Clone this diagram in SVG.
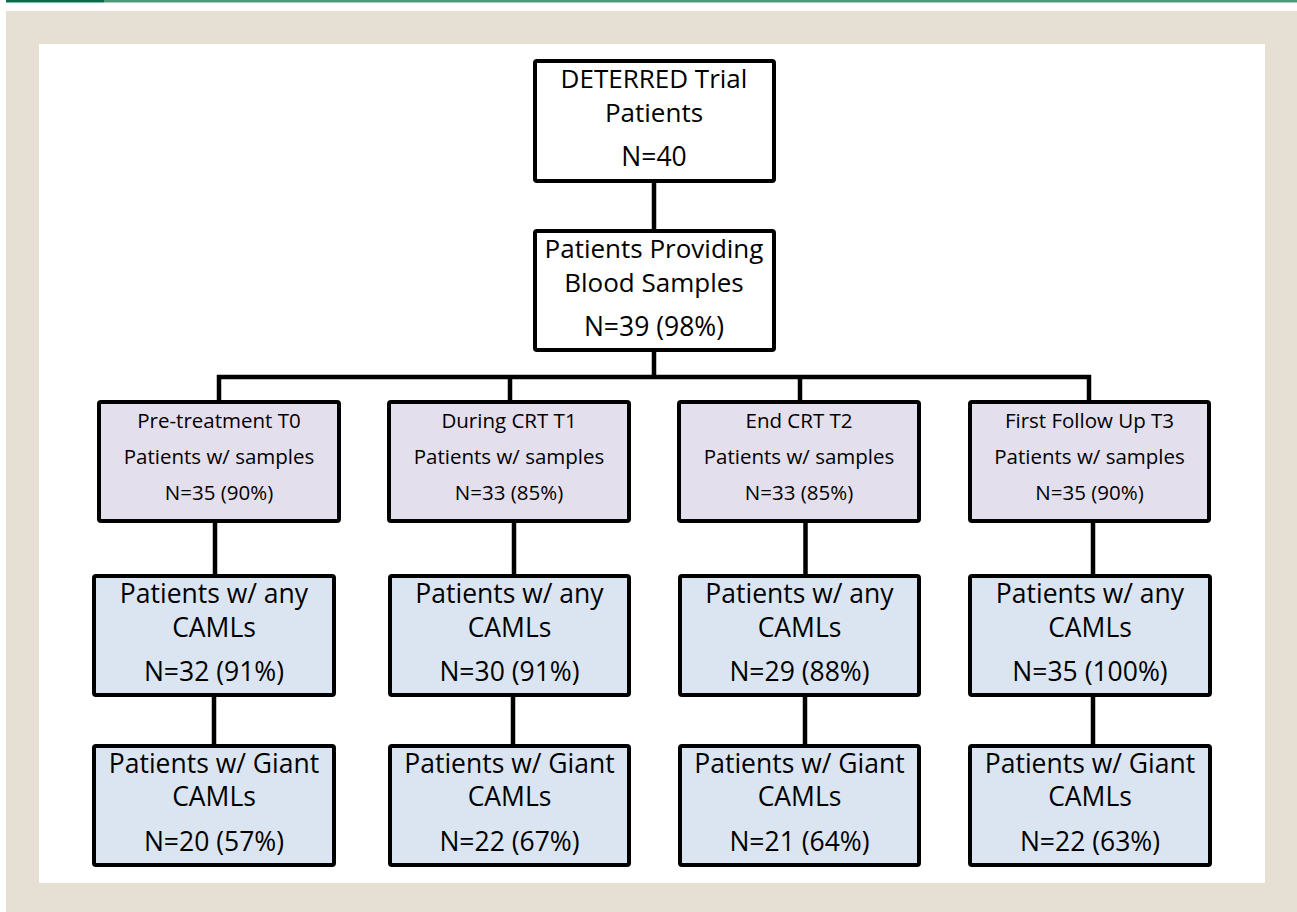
<svg xmlns="http://www.w3.org/2000/svg" width="1297" height="912" viewBox="0 0 1297 912">
<style>
.box{stroke:#000;stroke-width:4;stroke-linejoin:round}
.w{fill:#fff}
.p{fill:#e4dfec}
.b{fill:#dbe5f1}
.t{font-family:"Open Sans","Noto Sans",sans-serif;fill:#000;text-anchor:middle}
.L{font-size:26.5px}
.M{font-size:26px}
.S{font-size:20.5px}
.c{stroke:#000;stroke-width:4.5;fill:none;stroke-linecap:square}
</style>
<rect x="0" y="0" width="1297" height="912" fill="#fff"/>
<rect x="6" y="0" width="98" height="2.5" fill="#006e4a"/>
<rect x="104" y="0" width="1193" height="2.5" fill="#4c9a7b"/>
<rect x="6" y="11" width="1291" height="901" fill="#e6dfd3"/>
<rect x="39" y="44" width="1226" height="839" fill="#fff"/>
<g id="connectors">
<path class="c" d="M654 183V229M654 352V377M219 377H1089M219 377V400M510 377V400M800 377V400M1089 377V400"/>
<path class="c" d="M215 523V574M514 523V574M805.5 523V574M1093 523V574"/>
<path class="c" d="M214 697V744M513 697V744M805 697V744M1093 697V744"/>
</g>
<g id="trial">
<rect class="box w" x="535" y="61" width="239" height="120" rx="2"/>
<text class="t M" x="654" y="88">DETERRED Trial</text>
<text class="t M" x="654" y="122">Patients</text>
<text class="t L" x="654" y="166">N=40</text>
</g>
<g id="blood">
<rect class="box w" x="535" y="231" width="239" height="119" rx="2"/>
<text class="t M" x="654" y="258">Patients Providing</text>
<text class="t M" x="654" y="292">Blood Samples</text>
<text class="t L" x="654" y="336">N=39 (98%)</text>
</g>
<g id="t0">
<rect class="box p" x="99" y="402" width="240" height="119" rx="2"/>
<text class="t S" x="219" y="428">Pre-treatment T0</text>
<text class="t S" x="219" y="464">Patients w/ samples</text>
<text class="t S" x="219" y="500">N=35 (90%)</text>
</g>
<g id="t1">
<rect class="box p" x="389" y="402" width="240" height="119" rx="2"/>
<text class="t S" x="509" y="428">During CRT T1</text>
<text class="t S" x="509" y="464">Patients w/ samples</text>
<text class="t S" x="509" y="500">N=33 (85%)</text>
</g>
<g id="t2">
<rect class="box p" x="679" y="402" width="240" height="119" rx="2"/>
<text class="t S" x="799" y="428">End CRT T2</text>
<text class="t S" x="799" y="464">Patients w/ samples</text>
<text class="t S" x="799" y="500">N=33 (85%)</text>
</g>
<g id="t3">
<rect class="box p" x="970" y="402" width="239" height="119" rx="2"/>
<text class="t S" x="1089.5" y="428">First Follow Up T3</text>
<text class="t S" x="1089.5" y="464">Patients w/ samples</text>
<text class="t S" x="1089.5" y="500">N=35 (90%)</text>
</g>
<g id="any0">
<rect class="box b" x="94" y="576" width="240" height="119" rx="2"/>
<text class="t L" x="214" y="603">Patients w/ any</text>
<text class="t L" x="214" y="636.5">CAMLs</text>
<text class="t L" x="214" y="680.5">N=32 (91%)</text>
</g>
<g id="any1">
<rect class="box b" x="390" y="576" width="239" height="119" rx="2"/>
<text class="t L" x="509.5" y="603">Patients w/ any</text>
<text class="t L" x="509.5" y="636.5">CAMLs</text>
<text class="t L" x="509.5" y="680.5">N=30 (91%)</text>
</g>
<g id="any2">
<rect class="box b" x="680" y="576" width="239" height="119" rx="2"/>
<text class="t L" x="799.5" y="603">Patients w/ any</text>
<text class="t L" x="799.5" y="636.5">CAMLs</text>
<text class="t L" x="799.5" y="680.5">N=29 (88%)</text>
</g>
<g id="any3">
<rect class="box b" x="970" y="576" width="240" height="119" rx="2"/>
<text class="t L" x="1090" y="603">Patients w/ any</text>
<text class="t L" x="1090" y="636.5">CAMLs</text>
<text class="t L" x="1090" y="680.5">N=35 (100%)</text>
</g>
<g id="giant0">
<rect class="box b" x="94" y="746" width="240" height="119" rx="2"/>
<text class="t L" x="214" y="773">Patients w/ Giant</text>
<text class="t L" x="214" y="806">CAMLs</text>
<text class="t L" x="214" y="850.5">N=20 (57%)</text>
</g>
<g id="giant1">
<rect class="box b" x="390" y="746" width="239" height="119" rx="2"/>
<text class="t L" x="509.5" y="773">Patients w/ Giant</text>
<text class="t L" x="509.5" y="806">CAMLs</text>
<text class="t L" x="509.5" y="850.5">N=22 (67%)</text>
</g>
<g id="giant2">
<rect class="box b" x="680" y="746" width="239" height="119" rx="2"/>
<text class="t L" x="799.5" y="773">Patients w/ Giant</text>
<text class="t L" x="799.5" y="806">CAMLs</text>
<text class="t L" x="799.5" y="850.5">N=21 (64%)</text>
</g>
<g id="giant3">
<rect class="box b" x="970" y="746" width="240" height="119" rx="2"/>
<text class="t L" x="1090" y="773">Patients w/ Giant</text>
<text class="t L" x="1090" y="806">CAMLs</text>
<text class="t L" x="1090" y="850.5">N=22 (63%)</text>
</g>
</svg>
